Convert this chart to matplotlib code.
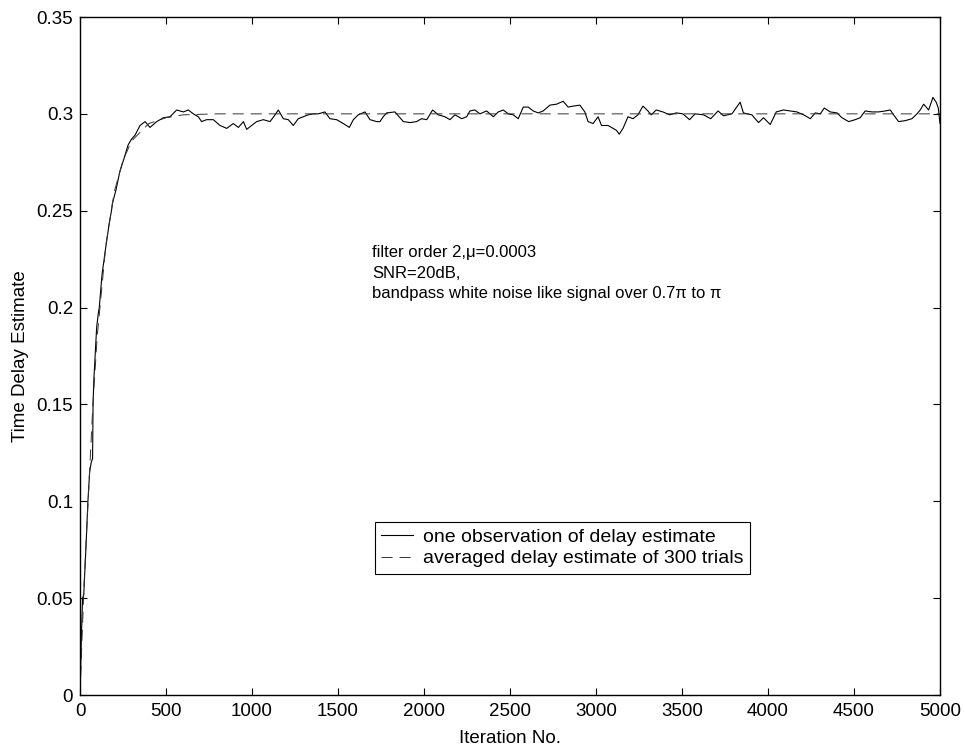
import matplotlib
matplotlib.use("Agg")
import matplotlib.pyplot as plt

plt.rcParams['font.family'] = ['Liberation Sans', 'DejaVu Sans']
plt.rcParams['lines.scale_dashes'] = False

# one observation of delay estimate
obs_iter = [0, 8, 15, 22, 34, 46, 56, 65, 73, 76, 80, 90, 97, 108, 112, 128, 148,
            169, 183, 189, 210, 231, 256, 280, 300, 320, 349, 378, 407, 446, 485,
            523, 562, 601, 630, 659, 688, 707, 736, 775, 814, 853, 891, 921, 950,
            969, 998, 1027, 1066, 1105, 1134, 1153, 1182, 1211, 1240, 1269, 1298,
            1327, 1356, 1385, 1424, 1453, 1492, 1531, 1566, 1589, 1618, 1657, 1686,
            1725, 1744, 1763, 1783, 1831, 1880, 1919, 1957, 1986, 2016, 2050, 2083,
            2122, 2151, 2180, 2219, 2248, 2267, 2296, 2325, 2364, 2403, 2432, 2461,
            2490, 2519, 2548, 2577, 2606, 2635, 2664, 2693, 2732, 2771, 2809, 2838,
            2867, 2906, 2935, 2954, 2983, 3012, 3032, 3070, 3099, 3119, 3135, 3157,
            3186, 3215, 3244, 3273, 3302, 3321, 3350, 3389, 3428, 3467, 3505, 3544,
            3576, 3625, 3667, 3710, 3741, 3790, 3838, 3857, 3906, 3945, 3974, 4013,
            4048, 4090, 4129, 4168, 4207, 4246, 4275, 4304, 4327, 4362, 4401, 4430,
            4469, 4507, 4536, 4565, 4604, 4643, 4682, 4711, 4730, 4759, 4798, 4837,
            4866, 4885, 4905, 4934, 4959, 4978, 4990, 5000]
obs_val = [0.0, 0.03, 0.05, 0.052, 0.075, 0.1, 0.115, 0.12, 0.122, 0.15, 0.162,
           0.178, 0.19, 0.198, 0.2, 0.217, 0.23, 0.243, 0.25, 0.254, 0.261, 0.27,
           0.277, 0.284, 0.287, 0.289, 0.294, 0.296, 0.293, 0.296, 0.298, 0.2985,
           0.302, 0.301, 0.302, 0.300, 0.2985, 0.296, 0.297, 0.297, 0.294, 0.2925,
           0.295, 0.293, 0.296, 0.292, 0.294, 0.296, 0.297, 0.296, 0.2995, 0.302,
           0.2975, 0.297, 0.294, 0.2975, 0.2985, 0.2995, 0.300, 0.300, 0.301,
           0.2975, 0.297, 0.295, 0.293, 0.297, 0.2995, 0.301, 0.297, 0.296, 0.296,
           0.2985, 0.3005, 0.301, 0.296, 0.2955, 0.296, 0.2975, 0.297, 0.302,
           0.2995, 0.2985, 0.297, 0.2995, 0.2975, 0.2985, 0.3015, 0.302, 0.300,
           0.3015, 0.2985, 0.301, 0.302, 0.300, 0.2995, 0.2975, 0.3035, 0.3035,
           0.3015, 0.3005, 0.3015, 0.3045, 0.305, 0.3065, 0.3035, 0.304, 0.3045,
           0.301, 0.296, 0.295, 0.2985, 0.294, 0.294, 0.2925, 0.2915, 0.2895,
           0.2925, 0.2985, 0.2975, 0.2995, 0.304, 0.3015, 0.2995, 0.302, 0.301,
           0.2995, 0.3005, 0.300, 0.297, 0.300, 0.2995, 0.2975, 0.3015, 0.299,
           0.300, 0.306, 0.3005, 0.2995, 0.2955, 0.298, 0.2945, 0.301, 0.302,
           0.3015, 0.301, 0.2995, 0.2975, 0.3005, 0.300, 0.303, 0.301, 0.3005,
           0.298, 0.296, 0.297, 0.298, 0.3015, 0.301, 0.301, 0.3015, 0.302, 0.2995,
           0.296, 0.2965, 0.2975, 0.300, 0.302, 0.305, 0.302, 0.3085, 0.306, 0.303,
           0.295]

# averaged delay estimate of 300 trials
avg_iter = [0, 10, 25, 50, 75, 100, 150, 200, 250, 300, 400, 500, 600, 800, 5000]
avg_val = [0.0, 0.025, 0.06, 0.105, 0.15, 0.185, 0.232, 0.26, 0.276, 0.286,
           0.295, 0.298, 0.2995, 0.3, 0.3]

fs = 13.5

fig = plt.figure(figsize=(9.65, 7.48), dpi=100)
ax = fig.add_axes([80 / 965, 53 / 748, 860 / 965, 678 / 748])

ax.plot(obs_iter, obs_val, color='black', linewidth=0.8,
        label='one observation of delay estimate')
ax.plot(avg_iter, avg_val, color='#333333', linewidth=0.7, dashes=(8, 5),
        label='averaged delay estimate of 300 trials')

ax.set_xlim(0, 5000)
ax.set_ylim(0, 0.35)
ax.set_xticks(range(0, 5001, 500))
ax.set_yticks([0, 0.05, 0.1, 0.15, 0.2, 0.25, 0.3, 0.35])
ax.set_yticklabels(['0', '0.05', '0.1', '0.15', '0.2', '0.25', '0.3', '0.35'])
ax.tick_params(direction='in', top=True, right=True, length=5, labelsize=fs)
ax.tick_params(axis='y', pad=5)
ax.tick_params(axis='x', pad=6)
for s in ax.spines.values():
    s.set_linewidth(1.0)

ax.set_xlabel('Iteration No.', fontsize=fs, labelpad=7)
ax.set_ylabel('Time Delay Estimate', fontsize=fs, labelpad=5)

ax.text(1700, 0.2286, 'filter order 2,\u03bc=0.0003', fontsize=12, va='center')
ax.text(1700, 0.2178, 'SNR=20dB,', fontsize=12, va='center')
ax.text(1700, 0.2073, 'bandpass white noise like signal over 0.7\u03c0 to \u03c0',
        fontsize=12, va='center')

leg = ax.legend(loc='upper left', bbox_to_anchor=(0.343, 0.255), borderaxespad=0,
                fancybox=False, framealpha=1, edgecolor='black', fontsize=14,
                handlelength=1.65, handletextpad=0.5, borderpad=0.32,
                labelspacing=0.2)
leg.get_frame().set_linewidth(0.8)

plt.savefig('out.png', dpi=100)
